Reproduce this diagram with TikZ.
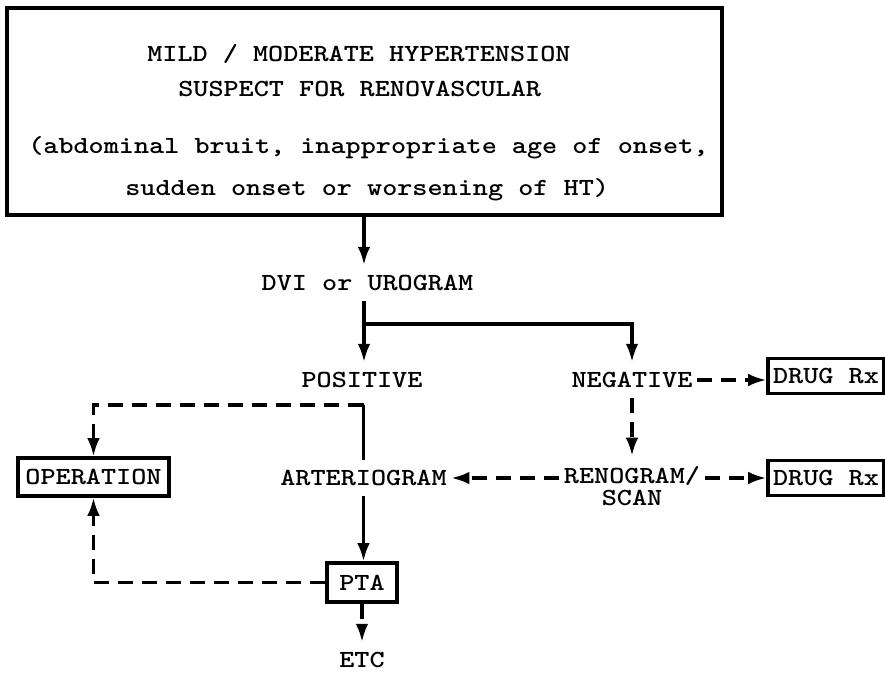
\documentclass[tikz,border=0pt]{standalone}
\usepackage{graphicx}
\usetikzlibrary{arrows.meta,positioning}

% typewriter text, a little wider than LM Mono
\newcommand{\wide}[1]{\scalebox{1.17}[1]{#1}}

\tikzset{
  txt/.style={font=\fontsize{17.5}{16}\selectfont\ttfamily\bfseries, inner sep=0pt},
  lbl/.style={font=\fontsize{17.5}{16}\selectfont\ttfamily\bfseries, inner xsep=3pt, inner ysep=7pt, align=center},
  boxed/.style={lbl, draw, line width=2.2pt, inner xsep=2pt, inner ysep=2pt},
  mainbox/.style={draw, line width=2.5pt},
  line/.style={line width=2.4pt},
  arr/.style={line, -{Latex[length=13pt,width=9pt]}},
  dasharr/.style={arr, dash pattern=on 10.7pt off 6.4pt},
}

\begin{document}
\begin{tikzpicture}[x=0.025cm, y=-0.025cm]
  \useasboundingbox (0,0) rectangle (885,675);

  % top box with the four lines of text
  \node[mainbox, minimum width=17.875cm, minimum height=5.175cm] (top) at (364.5,111.5) {};
  \node[txt, anchor=base west] (hd1) at (147,62) {\wide{MILD / MODERATE HYPERTENSION}};
  \node[txt, anchor=base west] (hd2) at (178,97) {\wide{SUSPECT FOR RENOVASCULAR}};
  \node[txt, anchor=base west] (hd3) at (28,154) {\wide{(abdominal bruit, inappropriate age of onset,}};
  \node[txt, anchor=base west] (hd4) at (125,196) {\wide{sudden onset or worsening of HT)}};

  % first test and its two results
  \node[lbl] (dvi) at (367.5,283) {\wide{DVI or UROGRAM}};
  \node[lbl] (pos) at (362,380) {\wide{POSITIVE}};
  \node[lbl] (neg) at (632,380) {\wide{NEGATIVE}};
  \coordinate (fork) at (364,324);

  % positive branch
  \node[lbl] (arter) at (363.5,478) {\wide{ARTERIOGRAM}};
  \node[boxed, minimum width=3.775cm, minimum height=0.95cm] (oper) at (93.5,477) {\wide{OPERATION}};
  \node[boxed, minimum width=1.75cm, minimum height=0.975cm] (pta) at (362,582.5) {\wide{PTA}};
  \node[lbl] (etc) at (362,660) {\wide{ETC}};

  % negative branch
  \node[boxed, minimum width=2.9cm, minimum height=0.86cm] (drug1) at (826,376) {\wide{DRUG Rx}};
  \node[lbl] (reno) at (632,486) {\wide{RENOGRAM/}\\\wide{SCAN}};
  \node[boxed, minimum width=2.9cm, minimum height=0.86cm] (drug2) at (826,478) {\wide{DRUG Rx}};

  % solid connectors
  \draw[arr] (top.south -| fork) -- (dvi.north -| fork);
  \draw[line] (dvi.south -| fork) -- (fork);
  \draw[arr] (fork) -- (pos.north -| fork);
  \draw[arr] (fork) -| (neg.north);
  \draw[arr] (arter.south) -- (arter.south |- pta.north);

  % dashed connectors
  \draw[line] (arter.north) -- ++(0,-55) coordinate (loopT);
  \draw[dasharr] (loopT) -| (oper.north);
  \draw[dasharr] (pta.west) -| (oper.south);
  \draw[dasharr] (pta.south) -- (etc.north);
  \draw[dasharr] (neg.east) -- (neg.east -| drug1.west);
  \draw[dasharr] (neg.south) -- (reno.north);
  \draw[dasharr] (reno.west |- arter) -- (arter.east);
  \draw[dasharr] (reno.east |- drug2) -- (drug2.west);
\end{tikzpicture}
\end{document}
